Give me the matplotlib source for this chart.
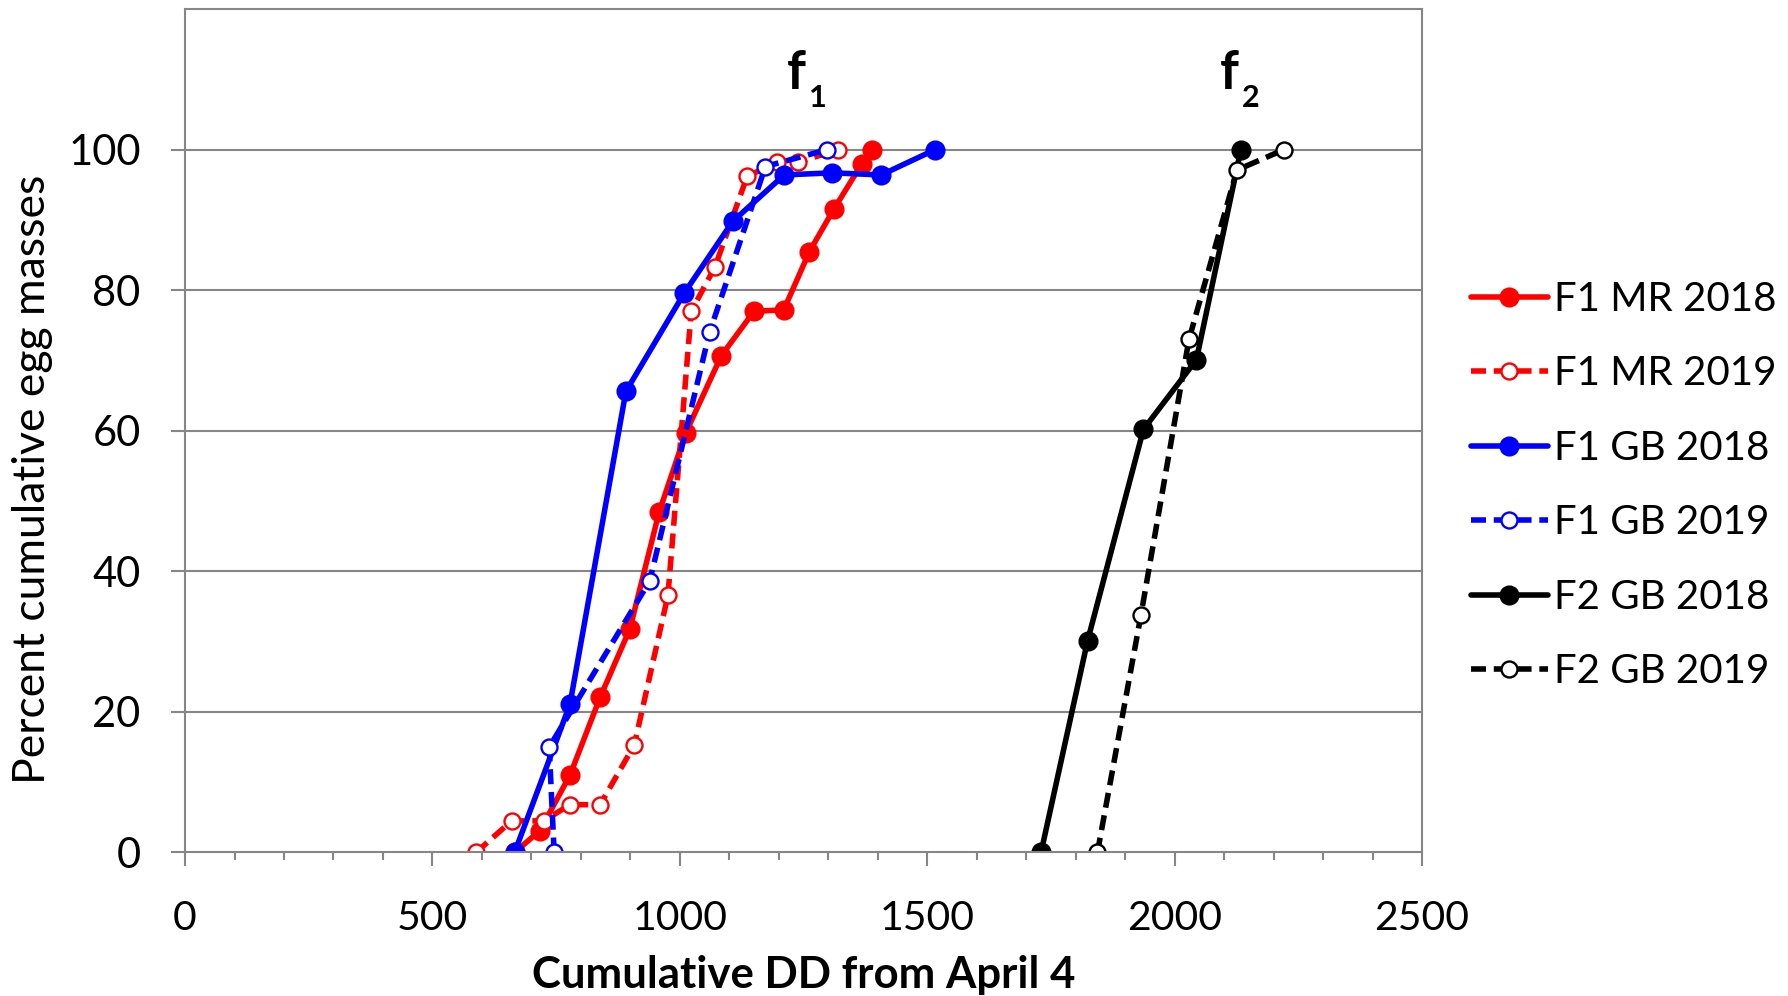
import matplotlib
matplotlib.use('Agg')
import matplotlib.pyplot as plt
from matplotlib.ticker import MultipleLocator

plt.rcParams['font.family'] = ['Lato', 'DejaVu Sans']

# data
mr18_x = [666, 717, 778, 839, 899, 958, 1012, 1084, 1150, 1210, 1262, 1311, 1368, 1388]
mr18_y = [0, 3.1, 11.0, 22.1, 31.8, 48.4, 59.7, 70.7, 77.0, 77.2, 85.5, 91.5, 98.0, 100]
mr19_x = [588, 660, 725, 778, 839, 908, 976, 1023, 1071, 1136, 1197, 1239, 1320]
mr19_y = [0, 4.5, 4.5, 6.8, 6.8, 15.3, 36.6, 77.0, 83.3, 96.2, 98.2, 98.2, 100]
gb18_x = [666, 778, 891, 1009, 1107, 1211, 1308, 1407, 1516]
gb18_y = [0, 21.1, 65.6, 79.6, 89.8, 96.4, 96.7, 96.4, 100]
gb19_x = [746, 736, 939, 1060, 1173, 1298]
gb19_y = [0, 15.0, 38.6, 74.0, 97.6, 100]
f2_18_x = [1730, 1824, 1937, 2044, 2134]
f2_18_y = [0, 30.1, 60.2, 70.1, 100]
f2_19_x = [1844, 1932, 2029, 2126, 2221]
f2_19_y = [0, 33.8, 73.0, 97.1, 100]

labels = ['F1 MR 2018', 'F1 MR 2019', 'F1 GB 2018', 'F1 GB 2019', 'F2 GB 2018', 'F2 GB 2019']

fig = plt.figure(figsize=(17.88, 9.96), dpi=100)
ax = fig.add_axes([0.1035, 0.1441, 0.6918, 0.8468])

grid_c = '#868686'
lw = 4.0
dash = (2.7, 1.4)


def solid(x, y, c, lab):
    ax.plot(x, y, color=c, lw=lw, marker='o', markersize=13.5, markerfacecolor=c,
            markeredgecolor=c, label=lab, solid_capstyle='round')


def dashed(x, y, c, lab):
    ax.plot(x, y, color=c, lw=lw, ls=(0, dash), marker='o', markersize=11.5,
            markerfacecolor='white', markeredgecolor=c, markeredgewidth=1.7, label=lab)


solid(mr18_x, mr18_y, '#ff0000', labels[0])
dashed(mr19_x, mr19_y, '#ff0000', labels[1])
solid(gb18_x, gb18_y, '#0000ff', labels[2])
dashed(gb19_x, gb19_y, '#0000ff', labels[3])
solid(f2_18_x, f2_18_y, 'black', labels[4])
dashed(f2_19_x, f2_19_y, 'black', labels[5])

ax.set_xlim(0, 2500)
ax.set_ylim(0, 120)
ax.set_yticks([0, 20, 40, 60, 80, 100])
ax.xaxis.set_major_locator(MultipleLocator(500))
ax.xaxis.set_minor_locator(MultipleLocator(100))
for v in [20, 40, 60, 80, 100]:
    ax.axhline(v, color=grid_c, lw=1.5, zorder=0)

for s in ax.spines.values():
    s.set_color(grid_c)
    s.set_linewidth(1.5)

ax.tick_params(axis='x', which='major', length=10, width=1.5, color=grid_c, labelsize=29.5, pad=24)
ax.tick_params(axis='x', which='minor', length=6, width=1.5, color=grid_c)
ax.tick_params(axis='y', length=10, width=1.5, color=grid_c, labelsize=30, pad=22)

ax.set_xlabel('Cumulative DD from April 4', fontsize=31.5, fontweight='bold')
ax.xaxis.set_label_coords(0.5, -0.121)
ax.set_ylabel('Percent cumulative egg masses', fontsize=32)
ax.yaxis.set_label_coords(-0.107, 0.443)

# f1 / f2 annotations
ax.text(1236, 110.9, 'f', fontsize=38, fontweight='bold', ha='center', va='center')
ax.text(1279, 107.3, '1', fontsize=22, fontweight='bold', ha='center', va='center')
ax.text(2110, 110.9, 'f', fontsize=38, fontweight='bold', ha='center', va='center')
ax.text(2153, 107.3, '2', fontsize=22, fontweight='bold', ha='center', va='center')

fig.legend(loc='center left', bbox_to_anchor=(0.8227, 0.5126), frameon=False, fontsize=29,
           handlelength=1.9, handletextpad=0.15, labelspacing=0.93, borderpad=0,
           borderaxespad=0)

fig.savefig('out.png', dpi=100)
